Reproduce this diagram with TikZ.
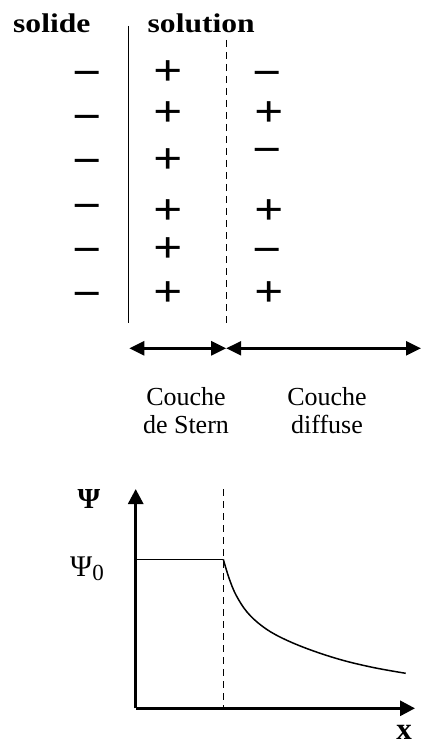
\documentclass[tikz,border=0pt]{standalone}
\usepackage{fontspec}
\setmainfont{Liberation Serif}
\usetikzlibrary{arrows.meta}
\newcommand\chP{\scalebox{1.17}[1]{+}\vphantom{+}}
\newcommand\chM{\scalebox{1.17}[1]{−}\vphantom{+}}
\tikzset{
  charge/.style={inner sep=0pt, font=\fontsize{44}{44}\selectfont\bfseries},
  poscharge/.style={charge, yshift=-2.5pt},
  negcharge/.style={charge, yshift=-4.5pt},
  title/.style={inner sep=0pt, anchor=base west, font=\fontsize{27}{30}\selectfont\bfseries},
  caption/.style={inner sep=0pt, anchor=base, align=center, font=\fontsize{26}{28}\selectfont},
  dashline/.style={line width=1.3pt, dash pattern=on 7pt off 5pt},
  dblarrow/.style={line width=2.5pt, {Triangle[length=15pt,width=14pt]}-{Triangle[length=15pt,width=14pt]}},
  axis/.style={line width=3pt, -{Triangle[length=15pt,width=15pt]}},
}
\begin{document}
\begin{tikzpicture}[x=1pt,y=-1pt]
\useasboundingbox (0,0) rectangle (422,743);
% titles
\node[title] (solide) at (13,33) {\scalebox{1.17}[1]{solide}};
\node[title] (solution) at (147.5,33) {\scalebox{1.17}[1]{solution}};
% interface lines
\coordinate (wallT) at (128.3,26);
\coordinate (wallB) at (128.3,323);
\draw[line width=1.6pt] (wallT) -- (wallB);
\coordinate (sternT) at (226.7,40);
\coordinate (sternB) at (226.7,323);
\draw[dashline] (sternT) -- (sternB);
% charges: solid
\node[negcharge] (s1) at (87.5,70.7) {\chM};
\node[negcharge] (s2) at (87.5,115) {\chM};
\node[negcharge] (s3) at (87.5,159) {\chM};
\node[negcharge] (s4) at (87.5,203.3) {\chM};
\node[negcharge] (s5) at (87.5,247.7) {\chM};
\node[negcharge] (s6) at (87.5,291.7) {\chM};
% Stern layer
\node[poscharge] (p1) at (168.3,70.7) {\chP};
\node[poscharge] (p2) at (168.3,111.7) {\chP};
\node[poscharge] (p3) at (168.3,158.3) {\chP};
\node[poscharge] (p4) at (168.3,209.3) {\chP};
\node[poscharge] (p5) at (168.3,247.7) {\chP};
\node[poscharge] (p6) at (168.3,291.7) {\chP};
% diffuse layer
\node[negcharge] (d1) at (267.5,70.7) {\chM};
\node[poscharge] (d2) at (269.3,111.7) {\chP};
\node[negcharge] (d3) at (267.5,147.7) {\chM};
\node[poscharge] (d4) at (269.3,209.3) {\chP};
\node[negcharge] (d5) at (267.5,247.7) {\chM};
\node[poscharge] (d6) at (269.3,291.7) {\chP};
% extent arrows
\coordinate (aL) at (129.3,348.3);
\coordinate (aM) at (226.2,348.3);
\coordinate (aR) at (421,348.3);
\draw[dblarrow] (aL) -- (aM);
\draw[dblarrow] (aM) -- (aR);
\node[caption] (stern) at (186,433) {Couche\\de Stern};
\node[caption] (diffuse) at (327,433) {Couche\\diffuse};
% potential plot
\coordinate (O) at (135.7,708.3);
\coordinate (Ytop) at (135.7,489);
\coordinate (Xend) at (415,708.3);
\draw[axis] (O) -- (Ytop);
\draw[axis] (O) -- (Xend);
\coordinate (vT) at (223.3,489.3);
\coordinate (vB) at (223.3,708.3);
\draw[dashline] (vT) -- (vB);
\coordinate (psi0) at (135.7,559.3);
\coordinate (knee) at (223.3,559.3);
\draw[line width=1.5pt] (psi0) -- (knee);
\draw[line width=1.5pt] plot[smooth, tension=0.6] coordinates {(knee) (229,578) (236,595) (247,612) (262,626) (280,637) (306.7,648.5) (340,659.5) (373.3,667.5) (405.7,673.3)};
\node[inner sep=0pt, anchor=base, font=\fontsize{29}{30}\selectfont\bfseries] (psiLabel) at (89,508.3) {Ψ};
\node[inner sep=0pt, anchor=base west, font=\fontsize{30}{30}\selectfont] (psi0Label) at (70,576.7) {Ψ\raisebox{-4pt}{\fontsize{23}{23}\selectfont 0}};
\node[inner sep=0pt, anchor=base, font=\fontsize{31}{31}\selectfont\bfseries] (xLabel) at (404,739) {x};
\end{tikzpicture}
\end{document}
